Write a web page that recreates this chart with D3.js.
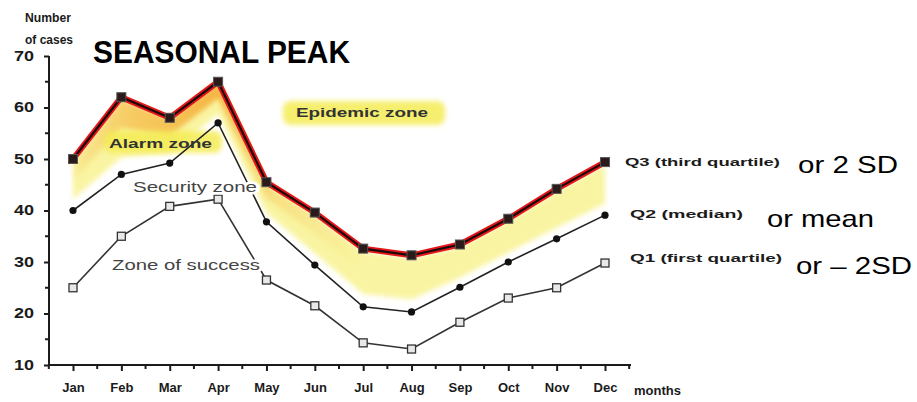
<!DOCTYPE html>
<html lang="en">
<head>
<meta charset="utf-8">
<title>Seasonal peak - endemic channel</title>
<script src="https://d3js.org/d3.v7.min.js"></script>
<style>
  body { margin: 0; background: #fff; }
  svg { display: block; }
  .axis path, .axis line { stroke: #1b1b1b; stroke-width: 2; }
  .axis text { font-family: "Liberation Sans", Arial, sans-serif; font-weight: bold; fill: #1b1b1b; }
</style>
</head>
<body>
<div id="chart"></div>
<script>
var months = ["Jan","Feb","Mar","Apr","May","Jun","Jul","Aug","Sep","Oct","Nov","Dec"];
var q3 = [50, 62, 58, 65, 45.5, 39.6, 32.6, 31.3, 33.4, 38.4, 44.2, 49.4];
var q2 = [40, 47, 49.2, 57, 37.8, 29.4, 21.3, 20.3, 25.1, 30, 34.5, 39.1];
var q1 = [25, 35, 40.8, 42.2, 26.5, 21.5, 14.3, 13.1, 18.3, 23, 25, 29.8];
var yTicks = [10, 20, 30, 40, 50, 60, 70];

var width = 917, height = 402;
var svg = d3.select("#chart").append("svg")
    .attr("width", width)
    .attr("height", height);

var x = d3.scalePoint().domain(months).range([73, 605]);
var y = d3.scaleLinear().domain([10, 70]).range([365, 56]);

var defs = svg.append("defs");
var blur = defs.append("filter").attr("id", "soft")
    .attr("x", "-20%").attr("y", "-50%").attr("width", "140%").attr("height", "200%");
blur.append("feGaussianBlur").attr("stdDeviation", 2.5);

// orange fades out after the peak
var grad = defs.append("linearGradient").attr("id", "orange")
    .attr("gradientUnits", "userSpaceOnUse")
    .attr("x1", x("Jan")).attr("x2", x("Jul")).attr("y1", 0).attr("y2", 0);
[[0, 0.1], [0.18, 0.5], [0.5, 0.8], [0.7, 0.25], [1, 0]].forEach(function(s) {
  grad.append("stop").attr("offset", s[0]).attr("stop-color", "#f4a62a").attr("stop-opacity", s[1]);
});

var rows = months.map(function(m, i) { return {m: m, q1: q1[i], q2: q2[i], q3: q3[i]}; });

// yellow alarm band
svg.append("path")
    .datum(rows)
    .attr("fill", "#f7f07a")
    .attr("opacity", 0.7)
    .attr("filter", "url(#soft)")
    .attr("d", d3.area()
      .x(function(d) { return x(d.m); })
      .y0(function(d) { return y(d.q3 - 0.78 * (d.q3 - d.q2)); })
      .y1(function(d) { return y(d.q3 - 0.05 * (d.q3 - d.q2)); }));

svg.append("path")
    .datum(rows)
    .attr("fill", "url(#orange)")
    .attr("filter", "url(#soft)")
    .attr("d", d3.area()
      .x(function(d) { return x(d.m); })
      .y0(function(d) { return y(d.q3 - 0.4 * (d.q3 - d.q2)); })
      .y1(function(d) { return y(d.q3); }));

// zone highlight blobs
function blob(x0, y0, w, h) {
  svg.append("rect")
      .attr("x", x0).attr("y", y0).attr("width", w).attr("height", h)
      .attr("rx", 8)
      .attr("fill", "#f4ec55")
      .attr("opacity", 0.85)
      .attr("filter", "url(#soft)");
}
blob(283, 101, 162, 24);
blob(104, 131, 118, 22);

// axes
var yAxis = d3.axisLeft(y).tickValues(yTicks).tickSize(5).tickPadding(10).tickSizeOuter(0);
var gy = svg.append("g").attr("class", "axis").attr("transform", "translate(49,0)").call(yAxis);
gy.selectAll("text").style("font-size", "14px").attr("textLength", 20).attr("lengthAdjust", "spacingAndGlyphs");
gy.select(".domain").attr("d", "M0," + y(70) + "V" + (y(10) + 1));
gy.selectAll(".minor").data(d3.range(15, 70, 10)).enter().append("line")
    .attr("class", "minor")
    .attr("x1", -4).attr("x2", 0)
    .attr("y1", function(d) { return y(d); }).attr("y2", function(d) { return y(d); });

var xAxis = d3.axisBottom(x).tickSize(6).tickPadding(12).tickSizeOuter(0);
var gx = svg.append("g").attr("class", "axis").attr("transform", "translate(0," + y(10) + ")").call(xAxis);
gx.selectAll("text").style("font-size", "13px");
gx.select(".domain").attr("d", "M48,0H631");
var step = x.step();
gx.selectAll(".minor").data(months.slice(0, 11).concat(["pre"])).enter().append("line")
    .attr("class", "minor")
    .attr("x1", function(d) { return d === "pre" ? x("Jan") - step / 2 : x(d) + step / 2; })
    .attr("x2", function(d) { return d === "pre" ? x("Jan") - step / 2 : x(d) + step / 2; })
    .attr("y1", 0).attr("y2", 4);
gx.append("line").attr("x1", x("Dec") + step / 2).attr("x2", x("Dec") + step / 2).attr("y1", 0).attr("y2", 4);
gx.append("text").attr("x", 634).attr("y", 30).attr("text-anchor", "start")
    .style("font-size", "13px").attr("fill", "#1b1b1b").text("months");

// lines
function line(key) {
  return d3.line().x(function(d) { return x(d.m); }).y(function(d) { return y(d[key]); });
}
svg.append("path").datum(rows).attr("fill", "none").attr("stroke", "#333")
    .attr("stroke-width", 1.6).attr("d", line("q1"));
svg.append("path").datum(rows).attr("fill", "none").attr("stroke", "#222")
    .attr("stroke-width", 1.6).attr("d", line("q2"));
svg.append("path").datum(rows).attr("fill", "none").attr("stroke", "#e4161b")
    .attr("stroke-width", 6).attr("stroke-linejoin", "round").attr("d", line("q3"));
svg.append("path").datum(rows).attr("fill", "none").attr("stroke", "#1a0a0a")
    .attr("stroke-width", 2.2).attr("d", line("q3"));

// markers
svg.selectAll(".m1").data(rows).enter().append("rect")
    .attr("x", function(d) { return x(d.m) - 4; })
    .attr("y", function(d) { return y(d.q1) - 4; })
    .attr("width", 8).attr("height", 8)
    .attr("fill", "#e8e8e8").attr("stroke", "#333").attr("stroke-width", 1.3);
svg.selectAll(".m2").data(rows).enter().append("circle")
    .attr("cx", function(d) { return x(d.m); })
    .attr("cy", function(d) { return y(d.q2); })
    .attr("r", 3.6).attr("fill", "#111");
svg.selectAll(".m3").data(rows).enter().append("rect")
    .attr("x", function(d) { return x(d.m) - 4.5; })
    .attr("y", function(d) { return y(d.q3) - 4.5; })
    .attr("width", 9).attr("height", 9)
    .attr("fill", "#2a1a1a").attr("stroke", "#555").attr("stroke-width", 1);

// texts
function label(t, x0, y0, size, opts) {
  opts = opts || {};
  var el = svg.append("text")
      .attr("x", x0).attr("y", y0)
      .attr("font-family", opts.family || "'Liberation Sans', Arial, sans-serif")
      .attr("font-size", size)
      .attr("font-weight", opts.weight || "normal")
      .attr("fill", opts.fill || "#1b1b1b")
      .text(t);
  if (opts.len) el.attr("textLength", opts.len).attr("lengthAdjust", "spacingAndGlyphs");
  if (opts.halo) el.attr("stroke", "#fff").attr("stroke-width", 5).attr("paint-order", "stroke");
  return el;
}
label("Number", 25, 22, 12, {weight: "bold", len: 46});
label("of cases", 25, 44, 12, {weight: "bold", len: 48});
label("SEASONAL  PEAK", 93, 63, 31, {weight: "bold", fill: "#000", len: 257});

label("Epidemic zone", 296, 117, 13, {weight: "bold", fill: "#333", len: 132});
label("Alarm zone", 109, 148, 13, {weight: "bold", fill: "#333", len: 103});
label("Security zone", 133, 192, 14, {fill: "#444", len: 124, halo: true});
label("Zone of success", 112, 270, 14, {fill: "#444", len: 148, halo: true});

label("Q3 (third quartile)", 625, 166, 11, {weight: "bold", len: 155});
label("Q2 (median)", 630, 218, 11, {weight: "bold", len: 113});
label("Q1 (first quartile)", 630, 262, 11, {weight: "bold", len: 152});
label("or 2 SD", 798, 173, 24, {fill: "#000", len: 100});
label("or mean", 767, 227, 24, {fill: "#000", len: 107});
label("or \u2013 2SD", 796, 274, 24, {fill: "#000", len: 116});
</script>
</body>
</html>
